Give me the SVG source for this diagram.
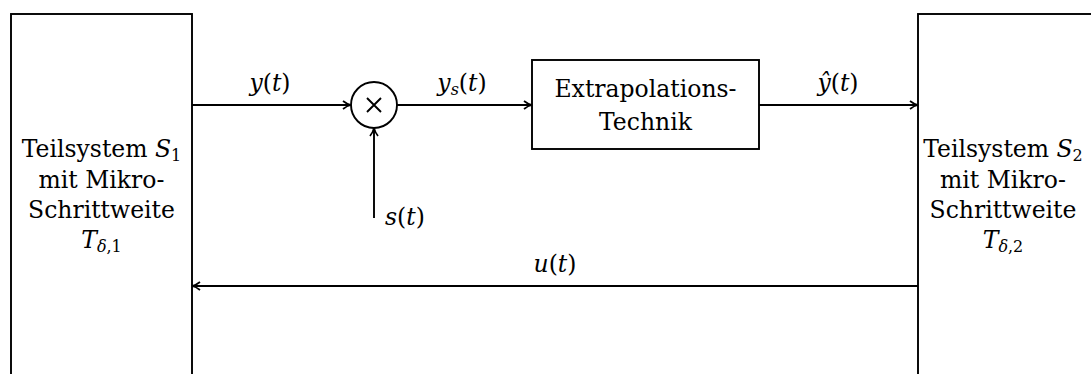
<svg xmlns="http://www.w3.org/2000/svg" width="1091" height="374" viewBox="0 0 1091 374">
<style>
.box{fill:#fff;stroke:#000;stroke-width:1.9}
.ln{fill:none;stroke:#000;stroke-width:1.9}
text{font-family:'DejaVu Serif',serif;font-size:23.5px;fill:#000}
.c{text-anchor:middle}
.i{font-style:italic}
.sub{font-size:16px}
</style>
<defs>
<marker id="arr" viewBox="0 0 10 10" refX="9" refY="5" markerWidth="10" markerHeight="10" markerUnits="userSpaceOnUse" orient="auto">
<path d="M1,1 Q5,4.2 9,5 Q5,5.8 1,9" fill="none" stroke="#000" stroke-width="1.7"/>
</marker>
</defs>
<rect width="1091" height="374" fill="#fff"/>
<g id="S1">
<rect class="box" x="11" y="14" width="181" height="380"/>
<text class="c" x="101.5" y="157">Teilsystem <tspan class="i">S</tspan><tspan class="sub" dy="4">1</tspan></text>
<text class="c" x="101.5" y="188">mit Mikro-</text>
<text class="c" x="101.5" y="218">Schrittweite</text>
<text class="c" x="101.5" y="248"><tspan class="i">T</tspan><tspan class="sub i" dy="4">δ</tspan><tspan class="sub">,1</tspan></text>
</g>
<g id="S2">
<rect class="box" x="918" y="14" width="200" height="380"/>
<text class="c" x="1003" y="157">Teilsystem <tspan class="i">S</tspan><tspan class="sub" dy="4">2</tspan></text>
<text class="c" x="1003" y="188">mit Mikro-</text>
<text class="c" x="1003" y="218">Schrittweite</text>
<text class="c" x="1003" y="248"><tspan class="i">T</tspan><tspan class="sub i" dy="4">δ</tspan><tspan class="sub">,2</tspan></text>
</g>
<g id="mult">
<circle class="box" cx="374" cy="105" r="23"/>
<path class="ln" d="M367,98 L381,112 M381,98 L367,112" stroke-width="1.1"/>
</g>
<g id="extrap">
<rect class="box" x="532" y="60" width="227" height="89"/>
<text class="c" x="645.5" y="97">Extrapolations-</text>
<text class="c" x="645.5" y="130">Technik</text>
</g>
<g id="connectors">
<line class="ln" x1="192" y1="105" x2="351" y2="105" marker-end="url(#arr)"/>
<line class="ln" x1="397" y1="105" x2="532" y2="105" marker-end="url(#arr)"/>
<line class="ln" x1="759" y1="105" x2="918" y2="105" marker-end="url(#arr)"/>
<line class="ln" x1="374" y1="218" x2="374" y2="128" marker-end="url(#arr)"/>
<line class="ln" x1="918" y1="286" x2="192" y2="286" marker-end="url(#arr)"/>
</g>
<g id="labels">
<text class="c" x="270" y="91"><tspan class="i">y</tspan>(<tspan class="i">t</tspan>)</text>
<text class="c" x="462" y="91"><tspan class="i">y</tspan><tspan class="sub i" dy="4">s</tspan><tspan dy="-4">(</tspan><tspan class="i">t</tspan>)</text>
<text class="c" x="838" y="91"><tspan class="i">ŷ</tspan>(<tspan class="i">t</tspan>)</text>
<text x="385" y="225"><tspan class="i">s</tspan>(<tspan class="i">t</tspan>)</text>
<text class="c" x="555" y="272"><tspan class="i">u</tspan>(<tspan class="i">t</tspan>)</text>
</g>
</svg>
